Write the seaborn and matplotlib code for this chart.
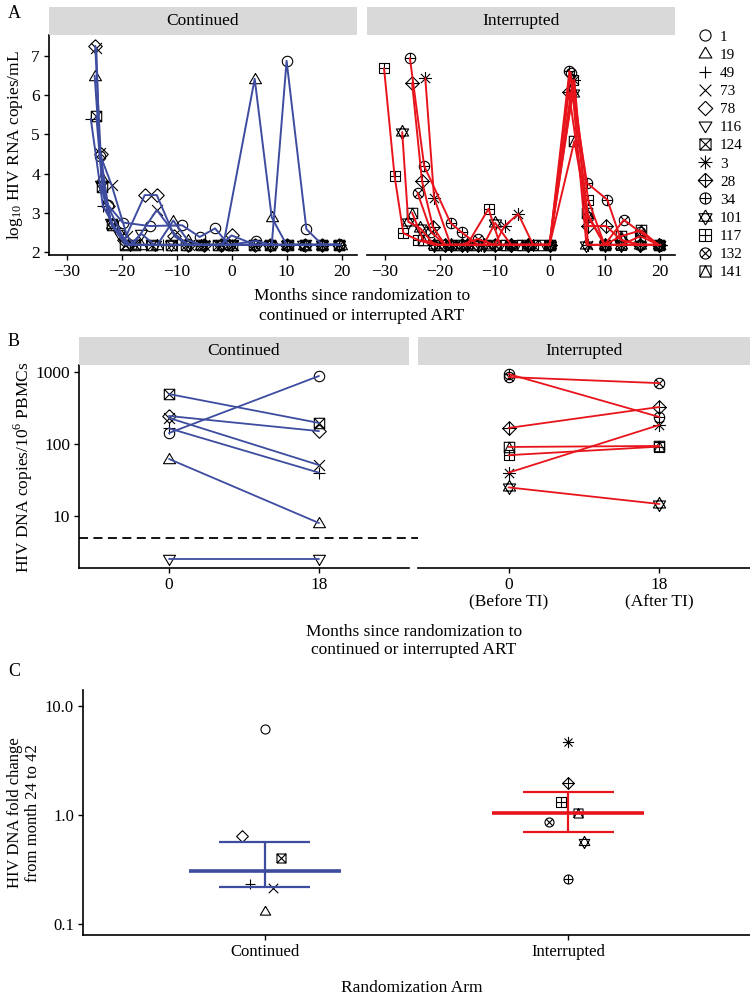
import numpy as np
import pandas as pd
import matplotlib
matplotlib.use("Agg")
import matplotlib.pyplot as plt
import seaborn as sns
from matplotlib.path import Path
from matplotlib.lines import Line2D
from matplotlib.ticker import NullLocator

sns.set_style("ticks")
plt.rcParams['font.family'] = ['Liberation Serif', 'DejaVu Serif']
plt.rcParams['mathtext.fontset'] = 'custom'
plt.rcParams['mathtext.rm'] = 'Liberation Serif'
for k in ['text.color', 'axes.labelcolor', 'xtick.color', 'ytick.color', 'axes.edgecolor']:
    plt.rcParams[k] = 'black'

BLUE = "#3D4C9F"
RED = "#E8141C"
STRIP = "#D9D9D9"

# ------------------------
# Data
# ------------------------
cont_ids = ["1", "19", "49", "73", "78", "116", "124"]
int_ids = ["3", "28", "34", "101", "117", "132", "141"]
legend_order = cont_ids + int_ids

# Panel A: log10 HIV RNA by months since randomization (continued arm)
m_1 = [-24.0, -22.5, -19.8, -14.9, -9.0, -5.8, -3.0, -0.5, 4.5, 7.3, 10.0, 13.6, 16.5, 19.5]
r_1 = [4.45, 3.20, 2.75, 2.66, 2.68, 2.38, 2.60, 2.18, 2.28, 2.18, 6.88, 2.58, 2.18, 2.18]
m_19 = [-24.9, -23.6, -21.8, -18.8, -16.5, -13.5, -10.6, -8.0, -5.5, -1.5, 4.2, 7.3, 10.0, 13.2, 16.5, 19.8]
r_19 = [6.50, 3.88, 2.70, 2.18, 2.18, 2.18, 2.80, 2.30, 2.18, 2.18, 6.42, 2.88, 2.18, 2.18, 2.18, 2.18]
m_49 = [-25.6, -23.4, -21.2, -18.5, -15.5, -12.5, -10.0, -7.5, -4.8, -1.5, 0.0, 4.0, 7.0, 10.0, 13.2, 16.5, 19.5]
r_49 = [5.40, 3.17, 2.62, 2.18, 2.18, 2.18, 2.18, 2.18, 2.18, 2.18, 2.18, 2.18, 2.18, 2.18, 2.18, 2.18, 2.18]
m_73 = [-24.6, -24.0, -21.8, -19.0, -17.8, -13.6, -10.3, -7.8, -5.0, -2.0, 0.3, 4.3, 7.0, 10.0, 13.5, 16.5, 19.5]
r_73 = [7.22, 4.52, 3.70, 2.40, 2.20, 3.07, 2.45, 2.18, 2.18, 2.18, 2.18, 2.18, 2.18, 2.18, 2.18, 2.18, 2.18]
m_78 = [-24.8, -23.8, -22.5, -19.5, -15.8, -13.6, -10.4, -8.0, -5.0, -2.0, 0.0, 4.3, 7.0, 10.0, 13.4, 16.5, 19.5]
r_78 = [7.26, 4.50, 3.17, 2.30, 3.45, 3.45, 2.40, 2.18, 2.18, 2.18, 2.42, 2.18, 2.18, 2.18, 2.18, 2.18, 2.18]
m_116 = [-23.8, -22.0, -20.5, -18.5, -16.4, -14.0, -11.0, -8.0, -5.0, -2.0, 0.0, 4.0, 7.0, 10.0, 13.0, 16.5, 19.5]
r_116 = [3.70, 2.75, 2.45, 2.18, 2.46, 2.18, 2.18, 2.18, 2.18, 2.18, 2.18, 2.18, 2.18, 2.18, 2.18, 2.18, 2.18]
m_124 = [-24.6, -23.5, -21.8, -19.3, -17.5, -14.5, -11.0, -8.3, -5.5, -2.5, 0.0, 4.0, 7.0, 10.3, 13.3, 16.5, 19.5]
r_124 = [5.47, 3.66, 2.68, 2.18, 2.18, 2.18, 2.18, 2.18, 2.18, 2.18, 2.18, 2.18, 2.18, 2.18, 2.18, 2.18, 2.18]

# Panel A: interrupted arm
m_3 = [-22.6, -21.0, -18.0, -15.0, -12.5, -10.0, -8.2, -5.7, -3.0, 0.0, 4.5, 7.0, 10.0, 13.0, 16.5, 20.2]
r_3 = [6.44, 3.38, 2.18, 2.18, 2.18, 2.18, 2.66, 2.97, 2.18, 2.18, 6.40, 2.18, 2.18, 2.18, 2.18, 2.18]
m_28 = [-25.0, -23.2, -21.2, -19.0, -16.0, -13.0, -10.0, -7.0, -4.0, 0.0, 3.5, 7.0, 10.3, 13.0, 16.5, 19.8]
r_28 = [6.31, 3.81, 2.63, 2.18, 2.18, 2.18, 2.18, 2.18, 2.18, 2.18, 6.08, 2.66, 2.66, 2.30, 2.18, 2.18]
m_34 = [-25.4, -22.8, -18.0, -16.0, -13.0, -10.0, -7.0, -4.0, 0.0, 3.6, 6.8, 10.5, 13.0, 16.5, 19.8]
r_34 = [6.95, 4.19, 2.74, 2.50, 2.18, 2.18, 2.18, 2.18, 2.18, 6.62, 3.76, 3.33, 2.30, 2.18, 2.18]
m_101 = [-26.8, -25.7, -23.5, -21.0, -18.0, -15.0, -12.0, -9.9, -7.0, -4.0, 0.0, 4.2, 6.7, 10.0, 13.0, 16.5, 19.8]
r_101 = [5.06, 2.77, 2.60, 2.18, 2.18, 2.18, 2.18, 2.74, 2.18, 2.18, 2.18, 6.05, 2.18, 2.18, 2.18, 2.18, 2.18]
m_117 = [-30.1, -28.2, -26.6, -23.9, -21.0, -18.0, -15.0, -11.1, -9.0, -6.0, -3.0, 0.0, 4.2, 7.0, 10.0, 13.0, 16.5, 19.8]
r_117 = [6.69, 3.95, 2.48, 2.30, 2.18, 2.18, 2.18, 3.10, 2.18, 2.18, 2.18, 2.18, 6.38, 3.33, 2.18, 2.18, 2.40, 2.18]
m_132 = [-24.0, -21.5, -19.0, -16.0, -13.1, -10.0, -7.0, -4.0, 0.0, 3.8, 7.0, 10.0, 13.5, 16.5, 19.8]
r_132 = [3.50, 2.50, 2.18, 2.18, 2.33, 2.18, 2.18, 2.18, 2.18, 6.58, 2.90, 2.18, 2.82, 2.50, 2.18]
m_141 = [-25.0, -23.0, -20.0, -17.0, -14.0, -11.0, -8.0, -5.0, -2.0, 0.0, 4.5, 6.8, 10.0, 13.0, 16.6, 19.8]
r_141 = [3.00, 2.30, 2.18, 2.18, 2.18, 2.18, 2.18, 2.18, 2.18, 2.18, 4.83, 3.00, 2.18, 2.40, 2.55, 2.18]

# Panel B: HIV DNA copies/1e6 PBMCs at month 0 and 18
dna_cont_0 = [142, 62, 165, 230, 245, 2.5, 494]
dna_cont_18 = [880, 8.0, 40, 51, 151, 2.5, 196]
dna_int_0 = [40, 167, 937, 25, 70, 850, 91]
dna_int_18 = [184, 327, 237, 14.7, 92, 700, 94]
dna_months = [0, 18]

# Panel C: fold change month 24 to 42
fc_cont_ids = ["1", "19", "49", "73", "78", "124"]
fc_cont = [6.15, 0.133, 0.233, 0.214, 0.64, 0.40]
fc_cont_jit = [0.0, 0.0, -0.05, 0.026, -0.076, 0.053]
fc_int_ids = ["3", "28", "34", "101", "117", "132", "141"]
fc_int = [4.68, 1.97, 0.259, 0.565, 1.31, 0.86, 1.04]
fc_int_jit = [0.0, 0.0, 0.0, 0.053, -0.023, -0.063, 0.033]
arms = ["Continued", "Interrupted"]
arm_center = [0.306, 1.04]
arm_lo = [0.219, 0.70]
arm_hi = [0.565, 1.63]

# ------------------------
# R-style point shapes
# ------------------------
def poly(*pts):
    return Path(pts, [Path.MOVETO] + [Path.LINETO] * (len(pts) - 1))

def combo(*parts):
    return Path.make_compound_path(*parts)

CIRC = Path.unit_circle()
SQ = poly((-1, -1), (1, -1), (1, 1), (-1, 1), (-1, -1))
DIA = poly((0, 1), (1, 0), (0, -1), (-1, 0), (0, 1))
PLUS = combo(poly((-1, 0), (1, 0)), poly((0, -1), (0, 1)))
CROSS = combo(poly((-0.71, -0.71), (0.71, 0.71)), poly((-0.71, 0.71), (0.71, -0.71)))
DIAG = combo(poly((-1, -1), (1, 1)), poly((-1, 1), (1, -1)))
TRI = poly((0, 1), (-1, -0.7), (1, -0.7), (0, 1))
TRI_DN = poly((0, -1), (-1, 0.7), (1, 0.7), (0, -1))
TUP = poly((0, 1), (-0.87, -0.5), (0.87, -0.5), (0, 1))
TDN = poly((0, -1), (-0.87, 0.5), (0.87, 0.5), (0, -1))

MARK = {
    "1": CIRC, "19": TRI, "49": PLUS, "73": DIAG, "78": DIA, "116": TRI_DN,
    "124": combo(SQ, DIAG), "3": combo(PLUS, CROSS), "28": combo(DIA, PLUS),
    "34": combo(CIRC, PLUS), "101": combo(TUP, TDN), "117": combo(SQ, PLUS),
    "132": combo(CIRC, CROSS), "141": combo(SQ, poly((-1, -1), (0, 1), (1, -1))),
}
# a few shapes read larger in the original
SIZE_BOOST = {"3": 1.25, "101": 1.35, "49": 1.1, "73": 1.05, "78": 1.3, "28": 1.3,
              "19": 1.15, "116": 1.15}

rna = {
    "1": (m_1, r_1), "19": (m_19, r_19), "49": (m_49, r_49), "73": (m_73, r_73),
    "78": (m_78, r_78), "116": (m_116, r_116), "124": (m_124, r_124),
    "3": (m_3, r_3), "28": (m_28, r_28), "34": (m_34, r_34), "101": (m_101, r_101),
    "117": (m_117, r_117), "132": (m_132, r_132), "141": (m_141, r_141),
}

def pts(ax, x, y, pid, ms):
    ax.plot(x, y, ls='none', marker=MARK[pid], ms=ms * SIZE_BOOST.get(pid, 1.0),
            mfc='none', mec='black', mew=0.8, zorder=2, clip_on=False)

def strip(fig, rect, text):
    s = fig.add_axes(rect)
    s.set_facecolor(STRIP)
    for sp in s.spines.values():
        sp.set_visible(False)
    s.set_xticks([])
    s.set_yticks([])
    s.text(0.5, 0.5, text, ha='center', va='center', fontsize=12.5, transform=s.transAxes)

def style(ax, left=True):
    sns.despine(ax=ax, left=not left)
    ax.spines['bottom'].set_linewidth(1.2)
    ax.spines['left'].set_linewidth(1.2)
    ax.tick_params(length=3.5, width=1.0, labelsize=12.5, pad=3)
    if not left:
        ax.tick_params(axis='y', left=False, labelleft=False)

W, H = 750, 998
def rect(x0, y0, x1, y1):
    return [x0 / W, 1 - y1 / H, (x1 - x0) / W, (y1 - y0) / H]

fig = plt.figure(figsize=(7.5, 9.98), dpi=100)

# ------------------------
# Panel A
# ------------------------
for (x0, x1), ids, color, name in [((49, 357), cont_ids, BLUE, "Continued"),
                                   ((367, 675), int_ids, RED, "Interrupted")]:
    ax = fig.add_axes(rect(x0, 35, x1, 255))
    rows = []
    for pid in ids:
        t, v = rna[pid]
        rows += [(pid, a, b) for a, b in zip(t, v)]
    df = pd.DataFrame(rows, columns=["pid", "month", "rna"])
    sns.lineplot(data=df, x="month", y="rna", units="pid", estimator=None,
                 color=color, lw=1.4, ax=ax, zorder=3)
    for pid in ids:
        pts(ax, rna[pid][0], rna[pid][1], pid, 7.5)
    ax.set_xlim(-33.2, 22.8)
    ax.set_ylim(1.92, 7.54)
    ax.set_xticks([-30, -20, -10, 0, 10, 20])
    ax.set_yticks([2, 3, 4, 5, 6, 7])
    ax.set_xlabel("")
    ax.set_ylabel("")
    style(ax, left=(name == "Continued"))
    strip(fig, rect(x0, 7, x1, 35), name)

handles = [Line2D([], [], ls='none', marker=MARK[p], ms=8 * SIZE_BOOST.get(p, 1.0),
                  mfc='none', mec='black', mew=0.8)
           for p in legend_order]
fig.legend(handles, legend_order, loc='upper left', bbox_to_anchor=(697 / W, 1 - 30 / H),
           frameon=False, handlelength=1.0, handletextpad=0.5, labelspacing=0.29,
           fontsize=11, borderaxespad=0, borderpad=0)

fig.text(8 / W, 1 - 13 / H, "A", fontsize=13, va='center')
fig.text(15 / W, 1 - 145 / H, r"$\mathregular{log_{10}}$ HIV RNA copies/mL", rotation=90,
         ha='center', va='center', fontsize=12.5)
fig.text(362 / W, 1 - 306 / H, "Months since randomization to\ncontinued or interrupted ART",
         ha='center', va='center', fontsize=12.5, linespacing=1.25)

# ------------------------
# Panel B
# ------------------------
b_axes = []
for (x0, x1), ids, d0, d18, color, name in [((79, 409), cont_ids, dna_cont_0, dna_cont_18, BLUE, "Continued"),
                                            ((418, 750), int_ids, dna_int_0, dna_int_18, RED, "Interrupted")]:
    ax = fig.add_axes(rect(x0, 365, x1, 568))
    df = pd.DataFrame({"pid": ids * 2, "month": [dna_months[0]] * len(ids) + [dna_months[1]] * len(ids),
                       "dna": d0 + d18})
    sns.lineplot(data=df, x="month", y="dna", units="pid", estimator=None,
                 color=color, lw=1.3, ax=ax, zorder=3)
    for pid, a, b in zip(ids, d0, d18):
        pts(ax, dna_months, [a, b], pid, 7.5)
    ax.set_yscale('log')
    ax.set_ylim(1.9, 1250)
    ax.set_xlim(-10.8, 28.8)
    ax.set_yticks([10, 100, 1000])
    ax.set_yticklabels(["10", "100", "1000"])
    ax.yaxis.set_minor_locator(NullLocator())
    ax.set_xticks(dna_months)
    if name == "Interrupted":
        ax.set_xticklabels(["0\n(Before TI)", "18\n(After TI)"], linespacing=1.1)
    ax.set_xlabel("")
    ax.set_ylabel("")
    style(ax, left=(name == "Continued"))
    strip(fig, rect(x0, 337, x1, 365), name)
    b_axes.append(ax)

b_axes[0].axhline(5, xmin=0, xmax=(750 - 79) / 330, color='black', lw=1.3,
                  ls=(0, (5, 3)), clip_on=False, zorder=1)

fig.text(8 / W, 1 - 342 / H, "B", fontsize=13, va='center')
fig.text(23 / W, 1 - 467 / H, r"HIV DNA copies/10$^{6}$ PBMCs", rotation=90,
         ha='center', va='center', fontsize=12.5)
fig.text(414 / W, 1 - 641 / H, "Months since randomization to\ncontinued or interrupted ART",
         ha='center', va='center', fontsize=12.5, linespacing=1.25)

# ------------------------
# Panel C
# ------------------------
ax = fig.add_axes(rect(83, 690, 750, 935))
for i, (ids, vals, jit, color) in enumerate([(fc_cont_ids, fc_cont, fc_cont_jit, BLUE),
                                              (fc_int_ids, fc_int, fc_int_jit, RED)]):
    pos = i + 1
    for pid, v, j in zip(ids, vals, jit):
        pts(ax, [pos + j], [v], pid, 6.5)
    ax.hlines(arm_center[i], pos - 0.25, pos + 0.25, color=color, lw=2.6, zorder=3)
    ax.hlines([arm_lo[i], arm_hi[i]], pos - 0.15, pos + 0.15, color=color, lw=1.6, zorder=3)
    ax.vlines(pos, arm_lo[i], arm_hi[i], color=color, lw=1.6, zorder=3)
ax.set_yscale('log')
ax.set_ylim(10 ** -1.1, 10 ** 1.147)
ax.set_xlim(0.4, 2.6)
ax.set_yticks([0.1, 1, 10])
ax.set_yticklabels(["0.1", "1.0", "10.0"])
ax.yaxis.set_minor_locator(NullLocator())
ax.set_xticks([1, 2])
ax.set_xticklabels(arms)
style(ax)
ax.tick_params(labelsize=12)

fig.text(8 / W, 1 - 672 / H, "C", fontsize=13, va='center')
fig.text(24 / W, 1 - 813 / H, "HIV DNA fold change\nfrom month 24 to 42", rotation=90,
         ha='center', va='center', fontsize=12, linespacing=1.2, multialignment='center')
fig.text(412 / W, 1 - 988 / H, "Randomization Arm", ha='center', va='center', fontsize=12.5)

fig.savefig("out.png", dpi=100)
